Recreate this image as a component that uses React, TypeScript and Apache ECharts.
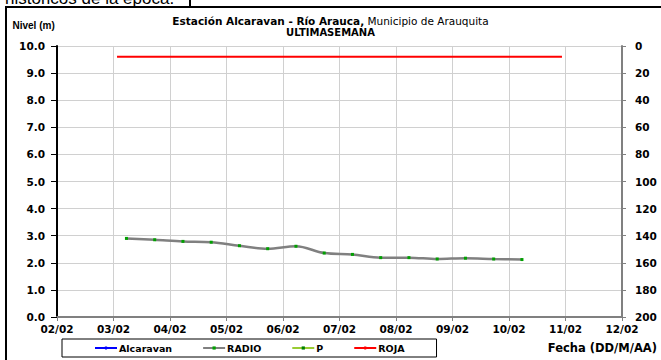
import React, { useEffect, useRef } from 'react';
import * as echarts from 'echarts';

// ---------- data ----------
const xTickLabels = ['02/02', '03/02', '04/02', '05/02', '06/02', '07/02', '08/02', '09/02', '10/02', '11/02', '12/02'];

const radioTimes = [
  '03/02 05:30', '03/02 17:30', '04/02 05:30', '04/02 17:30', '05/02 05:30',
  '05/02 17:30', '06/02 05:30', '06/02 17:30', '07/02 05:30', '07/02 17:30',
  '08/02 05:30', '08/02 17:30', '09/02 05:30', '09/02 17:30', '10/02 05:30',
];
const radioValues = [2.9, 2.85, 2.79, 2.76, 2.63, 2.52, 2.61, 2.36, 2.31, 2.19, 2.19, 2.14, 2.17, 2.14, 2.12];

const alcaravanTimes: string[] = [];
const alcaravanValues: number[] = [];
const pTimes: string[] = [];
const pValues: number[] = [];

const rojaTimes = ['03/02 01:30', '10/02 22:30'];
const rojaValues = [9.6, 9.6];

const legendNames = ['Alcaravan', 'RADIO', 'P', 'ROJA'];

const FONT = 'DejaVu Sans';

function dayOffset(s: string): number {
  const [d, t] = s.split(' ');
  const day = parseInt(d.split('/')[0], 10);
  const [hh, mm] = t.split(':').map((v) => parseInt(v, 10));
  return day - 2 + hh / 24 + mm / 1440;
}
function pairs(times: string[], values: number[]) {
  return times.map((t, i) => [dayOffset(t), values[i]]);
}

export default function App() {
  const ref = useRef<HTMLDivElement>(null);
  useEffect(() => {
    if (!ref.current) return;
    const chart = echarts.init(ref.current, undefined, { renderer: 'svg' });
    const labelStyle = { fontFamily: FONT, fontWeight: 'bold' as const, fontSize: 10.5, color: '#000' };
    chart.setOption({
      animation: false,
      backgroundColor: '#fff',
      title: [
        {
          text: '{b|Estación Alcaravan - Río Arauca,}{n| Municipio de Arauquita}',
          left: 'center',
          top: 14,
          padding: 0,
          textStyle: {
            rich: {
              b: { fontFamily: FONT, fontWeight: 'bold', fontSize: 10.5, color: '#000', lineHeight: 13 },
              n: { fontFamily: FONT, fontWeight: 'normal', fontSize: 10.5, color: '#000', lineHeight: 13 },
            },
          },
        },
        {
          text: 'ULTIMASEMANA',
          left: 'center',
          top: 26,
          padding: 0,
          textStyle: { fontFamily: FONT, fontWeight: 'bold', fontSize: 10, color: '#000', lineHeight: 12 },
        },
      ],
      graphic: [
        {
          type: 'text',
          left: 5,
          top: -10,
          style: { text: 'históricos de la época.', font: '17px "Liberation Sans"', fill: '#000' },
        },
        { type: 'rect', shape: { x: 189, y: 0, width: 2, height: 8 }, style: { fill: '#000' } },
        {
          type: 'rect',
          shape: { x: 6, y: 7, width: 700, height: 400 },
          style: { fill: 'none', stroke: '#000', lineWidth: 2 },
        },
        {
          type: 'text',
          x: 12.5,
          y: 25.5,
          style: { text: 'Nivel (m)', font: 'bold 10px "Liberation Sans"', fill: '#000', verticalAlign: 'middle' },
        },
        {
          type: 'text',
          x: 657,
          y: 348,
          style: {
            text: 'Fecha (DD/M/AA)',
            font: 'bold 11.5px "DejaVu Sans"',
            fill: '#000',
            align: 'right',
            verticalAlign: 'middle',
          },
        },
      ],
      legend: {
        data: legendNames,
        left: 62,
        top: 339,
        orient: 'horizontal',
        itemWidth: 22,
        itemHeight: 4,
        itemGap: 30,
        padding: [4, 32, 4, 32],
        borderColor: '#000',
        borderWidth: 1,
        textStyle: { fontFamily: FONT, fontWeight: 'bold', fontSize: 9.5, color: '#000', padding: [0, 0, 0, -3] },
      },
      grid: { left: 57, right: 39, top: 46, bottom: 43, containLabel: false },
      xAxis: {
        type: 'value',
        min: 0,
        max: 10,
        interval: 1,
        axisLine: { show: true, lineStyle: { color: '#808080', width: 2 } },
        axisTick: { show: true, length: 4, lineStyle: { color: '#808080', width: 1 } },
        axisLabel: { ...labelStyle, margin: 6, formatter: (v: number) => xTickLabels[Math.round(v)] ?? '' },
        splitLine: { show: true, lineStyle: { color: '#d0d0d0', width: 1 } },
      },
      yAxis: [
        {
          type: 'value',
          position: 'left',
          min: 0,
          max: 10,
          interval: 1,
          axisLine: { show: true, lineStyle: { color: '#000', width: 2 } },
          axisTick: { show: true, length: 6, lineStyle: { color: '#000', width: 1 } },
          axisLabel: { ...labelStyle, margin: 12, formatter: (v: number) => v.toFixed(1) },
          splitLine: { show: true, lineStyle: { color: '#d0d0d0', width: 1 } },
        },
        {
          type: 'value',
          position: 'right',
          min: 0,
          max: 200,
          interval: 20,
          inverse: true,
          axisLine: { show: true, lineStyle: { color: '#808080', width: 2 } },
          axisTick: { show: true, length: 4, lineStyle: { color: '#808080', width: 1 } },
          axisLabel: { ...labelStyle, margin: 13 },
          splitLine: { show: false },
        },
      ],
      series: [
        {
          name: 'Alcaravan',
          type: 'line',
          yAxisIndex: 0,
          data: pairs(alcaravanTimes, alcaravanValues),
          symbol: 'none',
          lineStyle: { color: '#0000ff', width: 2 },
          itemStyle: { color: '#0000ff' },
        },
        {
          name: 'RADIO',
          type: 'line',
          yAxisIndex: 0,
          data: pairs(radioTimes, radioValues),
          smooth: 0.35,
          symbol: 'rect',
          symbolSize: 3,
          lineStyle: { color: '#808080', width: 2.5 },
          itemStyle: { color: '#00a000', borderWidth: 0 },
        },
        {
          name: 'P',
          type: 'line',
          yAxisIndex: 0,
          data: pairs(pTimes, pValues),
          symbol: 'rect',
          symbolSize: 3,
          lineStyle: { color: '#99cc33', width: 1.5 },
          itemStyle: { color: '#008000', borderWidth: 0 },
        },
        {
          name: 'ROJA',
          type: 'line',
          yAxisIndex: 0,
          data: pairs(rojaTimes, rojaValues),
          symbol: 'none',
          lineStyle: { color: '#ff0000', width: 2 },
          itemStyle: { color: '#ff0000' },
        },
      ],
    });
    return () => chart.dispose();
  }, []);
  return (
    <div
      ref={ref}
      style={{ position: 'absolute', left: 0, top: 0, width: 661, height: 360, background: '#fff' }}
    />
  );
}
